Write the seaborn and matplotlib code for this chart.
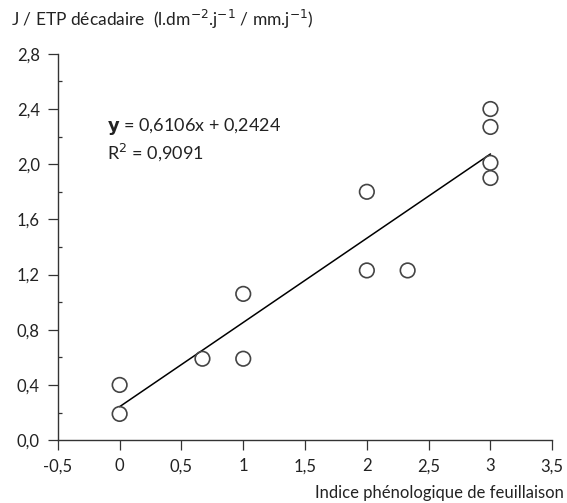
import matplotlib
matplotlib.use("Agg")
import matplotlib.pyplot as plt
import pandas as pd
import seaborn as sns
from matplotlib.ticker import FixedLocator, FuncFormatter, MultipleLocator

# values
indice = [0, 0, 0.67, 1, 1, 2, 2, 2.33, 3, 3, 3, 3]
ratio = [0.40, 0.19, 0.59, 0.59, 1.06, 1.80, 1.23, 1.23, 2.40, 2.27, 2.01, 1.90]
slope = 0.6106
intercept = 0.2424
r2 = 0.9091
fit_x = [0, 3]

x_ticks = [-0.5, 0, 0.5, 1, 1.5, 2, 2.5, 3, 3.5]
y_ticks = [0.0, 0.4, 0.8, 1.2, 1.6, 2.0, 2.4, 2.8]

sns.set_theme(style="ticks")
plt.rcParams["font.family"] = ["Lato", "DejaVu Sans"]

df = pd.DataFrame({"x": indice, "y": ratio})
fit = pd.DataFrame({"x": fit_x, "y": [slope * v + intercept for v in fit_x]})

fig = plt.figure(figsize=(5.67, 5.03), dpi=100)
ax = fig.add_axes([0.102, 0.125, 0.872, 0.768])

sns.lineplot(data=fit, x="x", y="y", ax=ax, color="black", linewidth=1.1)
sns.scatterplot(data=df, x="x", y="y", ax=ax, s=110, facecolor="none",
                edgecolor="#444444", linewidth=1.2, zorder=3)

ax.set_xlim(-0.5, 3.5)
ax.set_ylim(0, 2.8)
ax.xaxis.set_major_locator(FixedLocator(x_ticks))
ax.yaxis.set_major_locator(FixedLocator(y_ticks))
ax.yaxis.set_minor_locator(MultipleLocator(0.2))

ax.xaxis.set_major_formatter(FuncFormatter(lambda v, p: f"{v:g}".replace(".", ",")))
ax.yaxis.set_major_formatter(FuncFormatter(lambda v, p: f"{v:.1f}".replace(".", ",")))

ax.tick_params(axis="both", which="major", direction="out", length=7, width=0.9,
               color="#333333", labelsize=12, labelcolor="#222222", pad=6)
ax.yaxis.set_tick_params(which="minor", direction="in", length=3, width=0.9, color="#333333")
for side in ["top", "right"]:
    ax.spines[side].set_visible(False)
for side in ["left", "bottom"]:
    ax.spines[side].set_linewidth(1.0)
    ax.spines[side].set_color("#333333")

ax.set_xlabel("")
ax.set_ylabel("")

fig.text(0.02, 0.962, "J / ETP décadaire  (l.dm$^{-2}$.j$^{-1}$ / mm.j$^{-1}$)",
         fontsize=12.5, color="#222222", ha="left", va="center")
fig.text(0.995, 0.02, "Indice phénologique de feuillaison", fontsize=12,
         color="#222222", ha="right", va="center")

eq = f"y = {slope:.4f}x + {intercept:.4f}".replace(".", ",")
ax.text(-0.1, 2.27, r"$\mathbf{y}$" + eq[1:], fontsize=13, color="#222222", va="center")
ax.text(-0.1, 2.09, f"R$^{{2}}$ = {r2:.4f}".replace(".", ","), fontsize=13,
        color="#222222", va="center")

fig.savefig("out.png", dpi=100, facecolor="white")
